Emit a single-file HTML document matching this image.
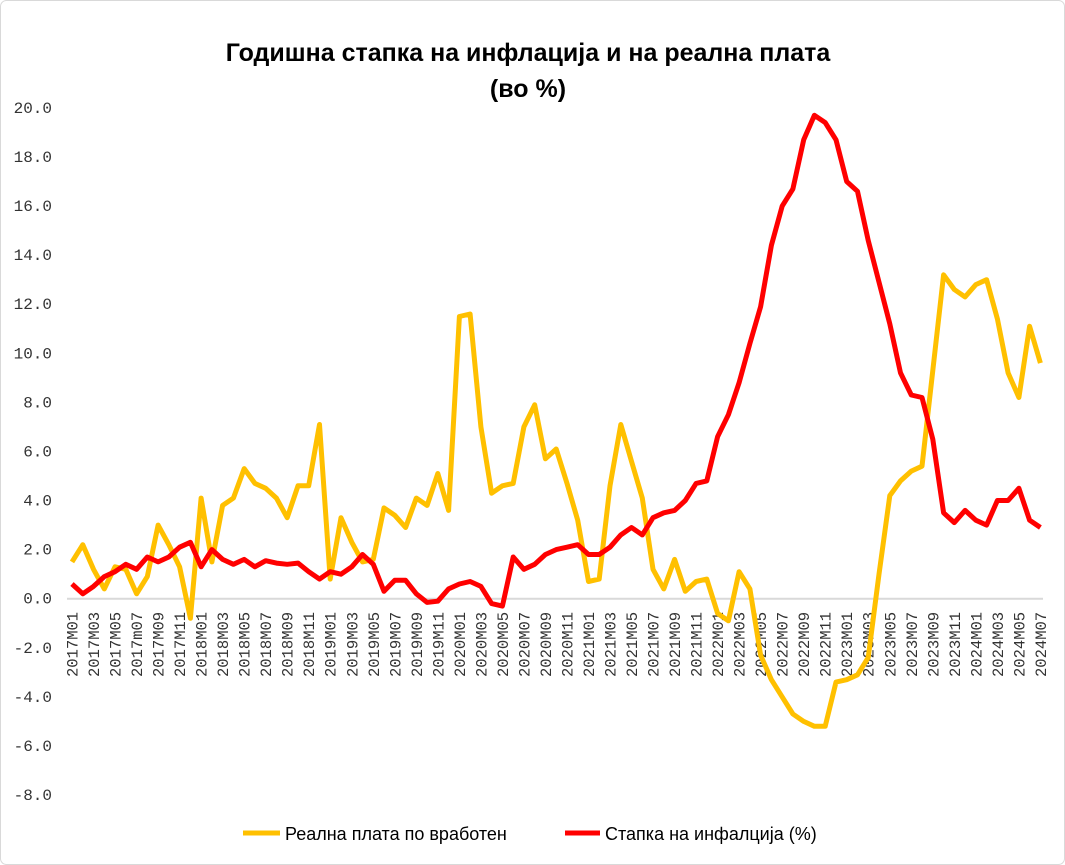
<!DOCTYPE html>
<html><head><meta charset="utf-8"><style>
html,body{margin:0;padding:0;background:#fff;}
svg{display:block;}
</style></head><body>
<svg id="c" width="1065" height="865" xmlns="http://www.w3.org/2000/svg">
<rect x="0.5" y="0.5" width="1064" height="864" rx="6" fill="#fff" stroke="#d9d9d9"/>
<text x="528" y="61" text-anchor="middle" font-family="Liberation Sans, sans-serif" font-weight="bold" font-size="25" fill="#000">Годишна стапка на инфлација и на реална плата</text>
<text x="528" y="97" text-anchor="middle" font-family="Liberation Sans, sans-serif" font-weight="bold" font-size="25" fill="#000">(во %)</text>
<line x1="67" y1="598.7" x2="1043" y2="598.7" stroke="#d9d9d9" stroke-width="2"/>
<g id="yl" font-family="Liberation Mono, monospace" font-size="16" fill="#333" text-anchor="end"></g>
<g id="xl" font-family="Liberation Mono, monospace" font-size="15.5" fill="#333"></g>
<polyline id="py" fill="none" stroke="#FFC000" stroke-width="5" stroke-linejoin="round"/>
<polyline id="pr" fill="none" stroke="#FF0000" stroke-width="5" stroke-linejoin="round"/>
<line x1="243" y1="833" x2="280" y2="833" stroke="#FFC000" stroke-width="5"/>
<text x="285" y="840" font-family="Liberation Sans, sans-serif" font-size="18" fill="#000">Реална плата по вработен</text>
<line x1="565" y1="833" x2="600" y2="833" stroke="#FF0000" stroke-width="5"/>
<text x="605" y="840" font-family="Liberation Sans, sans-serif" font-size="18" fill="#000">Стапка на инфалција (%)</text>
</svg>
<script>
var red=[0.6,0.2,0.5,0.9,1.1,1.4,1.2,1.7,1.5,1.7,2.1,2.3,
1.3,2.0,1.6,1.4,1.6,1.3,1.55,1.45,1.4,1.45,1.1,0.8,
1.1,1.0,1.3,1.8,1.4,0.3,0.75,0.75,0.2,-0.15,-0.1,0.4,
0.6,0.7,0.5,-0.2,-0.3,1.7,1.2,1.4,1.8,2.0,2.1,2.2,
1.8,1.8,2.1,2.6,2.9,2.6,3.3,3.5,3.6,4.0,4.7,4.8,
6.6,7.5,8.8,10.4,11.9,14.4,16.0,16.7,18.7,19.7,19.4,18.7,
17.0,16.6,14.6,12.9,11.2,9.2,8.3,8.2,6.5,3.5,3.1,3.6,
3.2,3.0,4.0,4.0,4.5,3.2,2.9];
var yel=[1.5,2.2,1.2,0.4,1.3,1.2,0.2,0.9,3.0,2.2,1.3,-0.8,
4.1,1.5,3.8,4.1,5.3,4.7,4.5,4.1,3.3,4.6,4.6,7.1,
0.8,3.3,2.3,1.5,1.6,3.7,3.4,2.9,4.1,3.8,5.1,3.6,
11.5,11.6,7.0,4.3,4.6,4.7,7.0,7.9,5.7,6.1,4.7,3.2,
0.7,0.8,4.6,7.1,5.6,4.1,1.2,0.4,1.6,0.3,0.7,0.8,
-0.6,-0.9,1.1,0.4,-2.3,-3.3,-4.0,-4.7,-5.0,-5.2,-5.2,-3.4,
-3.3,-3.1,-2.4,1.0,4.2,4.8,5.2,5.4,9.3,13.2,12.6,12.3,
12.8,13.0,11.4,9.2,8.2,11.1,9.6];
function X(i){return 72+10.76*i;}
function Y(v){return 598.7-24.54*v;}
function pts(a){return a.map(function(v,i){return X(i).toFixed(1)+","+Y(v).toFixed(1);}).join(" ");}
document.getElementById("pr").setAttribute("points",pts(red));
document.getElementById("py").setAttribute("points",pts(yel));
var NS="http://www.w3.org/2000/svg";
var yl=document.getElementById("yl");
for(var v=20;v>=-8;v-=2){var t=document.createElementNS(NS,"text");t.setAttribute("x","52");t.setAttribute("y",(Y(v)+5).toFixed(1));t.textContent=v.toFixed(1);yl.appendChild(t);}
var xl=document.getElementById("xl");
for(var i=0;i<91;i+=2){var yr=2017+Math.floor(i/12),m=i%12+1;var s=yr+(i==6?"m":"M")+(m<10?"0":"")+m;
var t=document.createElementNS(NS,"text");var x=X(i)+5.5;t.setAttribute("transform","translate("+x.toFixed(1)+",677) rotate(-90)");t.setAttribute("x","0");t.setAttribute("y","0");t.textContent=s;xl.appendChild(t);}
</script>
</body></html>
